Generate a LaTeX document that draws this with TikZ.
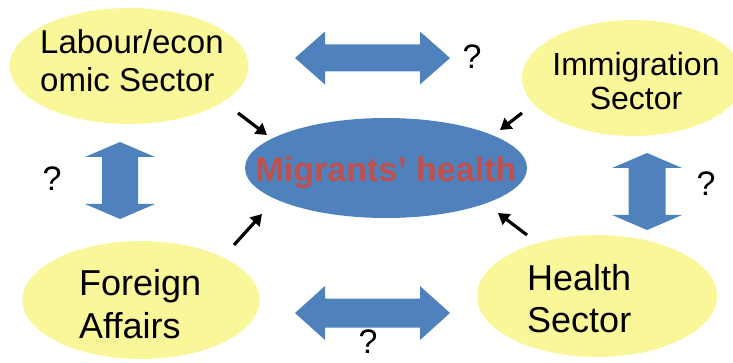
\documentclass[tikz,border=0pt]{standalone}
\usepackage{fontspec}
\setmainfont{Liberation Sans}
\usetikzlibrary{shapes.geometric,arrows.meta}

\definecolor{sectoryellow}{RGB}{250,247,155}
\definecolor{coreblue}{RGB}{79,129,189}
\definecolor{corered}{RGB}{192,80,77}

% Double-headed block arrow: centre, half length, head half-width,
% shaft half-width, head length, rotation
\newcommand{\blockdbl}[6]{%
  \begin{scope}[shift={#1},rotate=#6]
    \fill[coreblue] (-#2,0) -- (-#2+#5,#3) -- (-#2+#5,#4) -- (#2-#5,#4)
      -- (#2-#5,#3) -- (#2,0) -- (#2-#5,-#3) -- (#2-#5,-#4)
      -- (-#2+#5,-#4) -- (-#2+#5,-#3) -- cycle;
  \end{scope}}

\tikzset{
  sector/.style={ellipse, fill=sectoryellow, inner sep=0pt},
  core/.style={ellipse, fill=coreblue, inner sep=0pt},
  sectortext/.style={anchor=base west, inner sep=0pt, align=left},
  query/.style={inner sep=0pt, font=\fontsize{34}{34}\selectfont},
  influence/.style={line width=3.2pt, -{Triangle[length=11pt,width=13pt]}},
}

\begin{document}
\begin{tikzpicture}[x=1pt,y=-1pt]
  \useasboundingbox (0,0) rectangle (733,363);
  \clip (0,0) rectangle (733,363);

  % sectors
  \node[sector, minimum width=239pt, minimum height=116pt] (labour) at (129,66) {};
  \node[sector, minimum width=222pt, minimum height=116pt] (immig) at (633,78) {};
  \node[sector, minimum width=237pt, minimum height=118pt] (foreign) at (141,300) {};
  \node[sector, minimum width=240pt, minimum height=122pt] (healthsec) at (597,296) {};

  % central topic
  \node[core, minimum width=282pt, minimum height=100pt] (migrants) at (386,168) {};

  % labels
  \node[sectortext, font=\fontsize{33}{38}\selectfont] (labourtxt) at (40,54) {Labour/econ};
  \node[sectortext, font=\fontsize{33}{38}\selectfont] (labourtxt2) at (40,92) {omic Sector};
  \node[anchor=base, inner sep=0pt, font=\fontsize{32}{34}\selectfont] (immigtxt) at (636,76) {Immigration};
  \node[anchor=base, inner sep=0pt, font=\fontsize{32}{34}\selectfont] (immigtxt2) at (636,110) {Sector};
  \node[sectortext, font=\fontsize{36}{43}\selectfont] (foreigntxt) at (79,295) {Foreign};
  \node[sectortext, font=\fontsize{36}{43}\selectfont] (foreigntxt2) at (79,338) {Affairs};
  \node[sectortext, font=\fontsize{36}{42}\selectfont] (healthtxt) at (527,290) {Health};
  \node[sectortext, font=\fontsize{36}{42}\selectfont] (healthtxt2) at (527,332) {Sector};
  \node[anchor=base, inner sep=0pt, text=corered, font=\fontsize{34}{34}\selectfont\bfseries]
    (migrantstxt) at (386,182) {Migrants’ health};

  % two-way links between sectors
  \blockdbl{(372.5,58)}{77.5}{26.5}{13.5}{30}{0}
  \blockdbl{(372.5,313)}{77.5}{27}{14.5}{30}{0}
  \blockdbl{(120,180.5)}{38.5}{35}{18}{15}{90}
  \blockdbl{(647,191.5)}{38.5}{35}{18.5}{15}{90}

  \node[query] (q1) at (472,57) {?};
  \node[query] (q2) at (52,179) {?};
  \node[query] (q3) at (706,184) {?};
  \node[query] (q4) at (368,342) {?};

  % influences on migrants' health
  \coordinate (t1) at (238,113); \coordinate (h1) at (267,135);
  \coordinate (t2) at (522,113); \coordinate (h2) at (500,130);
  \coordinate (t3) at (234,245); \coordinate (h3) at (262,214);
  \coordinate (t4) at (527,235); \coordinate (h4) at (498,213);
  \draw[influence] (t1) -- (h1);
  \draw[influence] (t2) -- (h2);
  \draw[influence] (t3) -- (h3);
  \draw[influence] (t4) -- (h4);
\end{tikzpicture}
\end{document}
